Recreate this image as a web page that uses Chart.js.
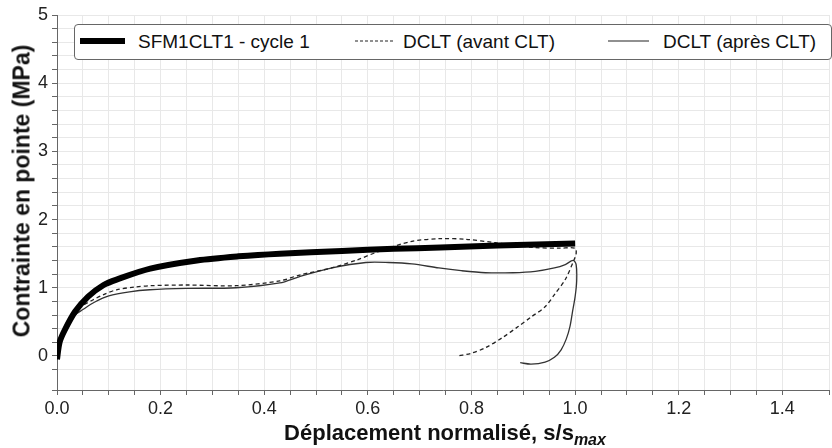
<!DOCTYPE html>
<html>
<head>
<meta charset="utf-8">
<script src="https://cdn.jsdelivr.net/npm/chart.js@4/dist/chart.umd.min.js"></script>
<style>
  html, body { margin: 0; padding: 0; background: #fff; }
  #wrap { position: relative; width: 832px; height: 448px; font-family: "Liberation Sans", Arial, sans-serif; color: #111; }
  #chart { position: absolute; left: 0; top: 0; }
  .legend { position: absolute; left: 74px; top: 24px; width: 756px; height: 34px; border: 1px solid #666; border-radius: 4px; background: #fff; }
  .lg { position: absolute; font-size: 19px; top: 6px; white-space: nowrap; }
  .legend svg { position: absolute; display: block; }
  .ytitle { position: absolute; left: 22px; top: 191px; transform: translate(-50%, -50%) rotate(-90deg); font-weight: bold; font-size: 23px; white-space: nowrap; }
  .xtitle { position: absolute; left: 445px; top: 433px; transform: translate(-50%, -50%); font-weight: bold; font-size: 22px; white-space: nowrap; }
  .xtitle sub { font-style: italic; font-size: 16px; vertical-align: -5px; line-height: 0; }
</style>
</head>
<body>
<div id="wrap">
  <canvas id="chart" width="832" height="448"></canvas>
  <div class="legend">
    <svg style="left:5px;top:12px" width="45" height="8"><line x1="0" y1="4" x2="45" y2="4" stroke="#000" stroke-width="6"/></svg>
    <span class="lg" style="left:63px">SFM1CLT1 - cycle 1</span>
    <svg style="left:280px;top:14px" width="40" height="4"><line x1="0" y1="2" x2="40" y2="2" stroke="#222" stroke-width="1.2" stroke-dasharray="3,2"/></svg>
    <span class="lg" style="left:328px">DCLT (avant CLT)</span>
    <svg style="left:533px;top:14px" width="41" height="4"><line x1="0" y1="2" x2="41" y2="2" stroke="#222" stroke-width="1.2"/></svg>
    <span class="lg" style="left:588px">DCLT (après CLT)</span>
  </div>
  <div class="ytitle">Contrainte en pointe (MPa)</div>
  <div class="xtitle">Déplacement normalisé, s/s<sub>max</sub></div>
</div>
<script>
//Courbes (x = s/smax, y = MPa)
const sfmX = [0, 0.005, 0.015, 0.035, 0.06, 0.09, 0.115, 0.18, 0.27, 0.35, 0.43, 0.55, 0.65, 0.74, 0.85, 1.0];
const sfmY = [-0.05, 0.2, 0.38, 0.65, 0.87, 1.04, 1.12, 1.28, 1.40, 1.46, 1.50, 1.54, 1.57, 1.59, 1.62, 1.65];

const avantX = [0, 0.005, 0.015, 0.035, 0.05, 0.069, 0.09, 0.115, 0.15, 0.18, 0.25, 0.346, 0.43, 0.47, 0.53, 0.58, 0.62, 0.685, 0.74, 0.79, 0.846, 0.92, 0.97, 1.0, 1.002, 0.998, 0.981, 0.962, 0.942, 0.915, 0.89, 0.86, 0.827, 0.8, 0.775];
const avantY = [-0.05, 0.2, 0.38, 0.63, 0.74, 0.82, 0.9, 0.97, 1.01, 1.03, 1.04, 1.03, 1.10, 1.19, 1.29, 1.41, 1.53, 1.68, 1.72, 1.71, 1.66, 1.59, 1.58, 1.58, 1.5, 1.41, 1.12, 0.92, 0.72, 0.57, 0.43, 0.27, 0.12, 0.04, 0.0];

const apresX = [0, 0.005, 0.015, 0.035, 0.05, 0.073, 0.1, 0.14, 0.179, 0.25, 0.346, 0.43, 0.467, 0.531, 0.596, 0.64, 0.685, 0.737, 0.78, 0.827, 0.88, 0.923, 0.96, 0.981, 0.996, 1.002, 1.003, 1.0, 0.995, 0.99, 0.983, 0.973, 0.96, 0.942, 0.915, 0.894];
const apresY = [-0.05, 0.2, 0.38, 0.6, 0.68, 0.79, 0.88, 0.94, 0.97, 0.99, 1.0, 1.07, 1.16, 1.29, 1.37, 1.37, 1.35, 1.29, 1.25, 1.22, 1.22, 1.24, 1.29, 1.34, 1.40, 1.34, 1.1, 0.87, 0.65, 0.43, 0.25, 0.09, -0.02, -0.09, -0.12, -0.10];

const xLabels = [0, 0.2, 0.4, 0.6, 0.8, 1.0, 1.2, 1.4];
const yLabels = [0, 1, 2, 3, 4, 5];

function pts(xs, ys) {
  return xs.map((x, i) => ({ x: x, y: ys[i] }));
}

const tickFont = { family: '"Liberation Sans", Arial, sans-serif', size: 18 };

new Chart(document.getElementById('chart'), {
  type: 'scatter',
  data: {
    datasets: [
      {
        label: 'SFM1CLT1 - cycle 1',
        data: pts(sfmX, sfmY),
        showLine: true,
        borderColor: '#000',
        borderWidth: 6,
        pointRadius: 0,
        tension: 0.3
      },
      {
        label: 'DCLT (avant CLT)',
        data: pts(avantX, avantY),
        showLine: true,
        borderColor: '#222',
        borderWidth: 1.3,
        borderDash: [4, 3],
        pointRadius: 0,
        tension: 0.3
      },
      {
        label: 'DCLT (après CLT)',
        data: pts(apresX, apresY),
        showLine: true,
        borderColor: '#333',
        borderWidth: 1.3,
        pointRadius: 0,
        tension: 0.3
      }
    ]
  },
  options: {
    responsive: false,
    animation: false,
    layout: { padding: { top: 15, right: 0, left: 0, bottom: 0 } },
    plugins: {
      legend: { display: false },
      tooltip: { enabled: false }
    },
    scales: {
      x: {
        type: 'linear',
        min: 0,
        max: 1.49,
        afterFit: s => { s.height = 58; },
        border: { color: '#666', width: 1 },
        grid: { color: '#e8e8e8', tickColor: '#666', tickLength: 5 },
        ticks: {
          stepSize: 0.05,
          autoSkip: false,
          maxRotation: 0,
          padding: 3,
          color: '#222',
          font: tickFont,
          callback: v => {
            const hit = xLabels.find(l => Math.abs(l - v) < 1e-6);
            return hit === undefined ? '' : hit.toFixed(1);
          }
        }
      },
      y: {
        min: -0.5,
        max: 5,
        afterFit: s => { s.width = 57; },
        border: { color: '#666', width: 1 },
        grid: { color: '#e8e8e8', tickColor: '#666', tickLength: 5 },
        ticks: {
          stepSize: 0.2,
          autoSkip: false,
          padding: 4,
          color: '#222',
          font: tickFont,
          callback: v => {
            const hit = yLabels.find(l => Math.abs(l - v) < 1e-6);
            return hit === undefined ? '' : String(hit);
          }
        }
      }
    }
  }
});
</script>
</body>
</html>
